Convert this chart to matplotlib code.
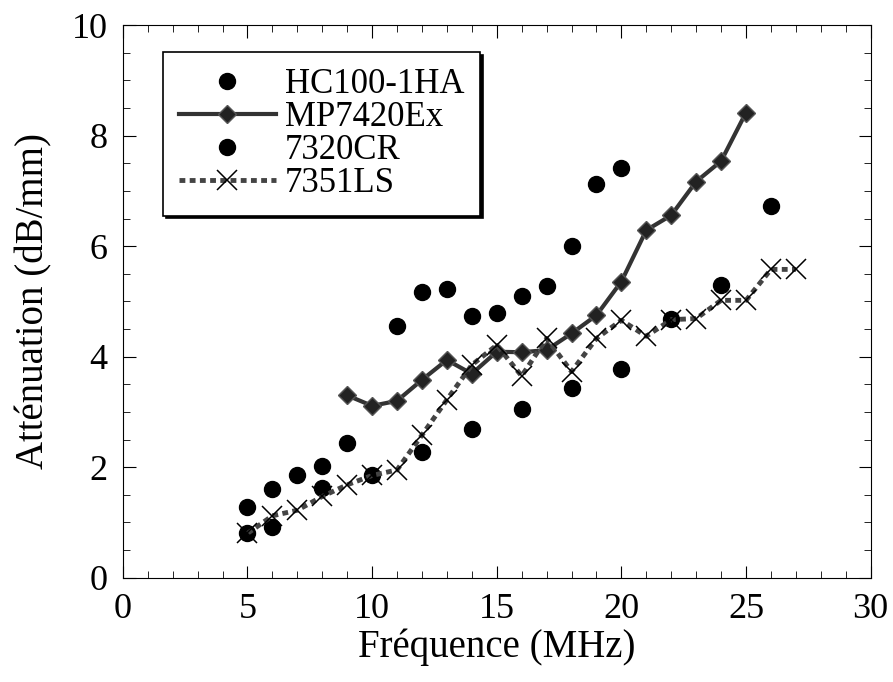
import matplotlib
matplotlib.use("Agg")
from matplotlib import pyplot as plt
from matplotlib.ticker import MultipleLocator
import numpy as np

plt.rcParams['font.family'] = ['Liberation Serif', 'DejaVu Serif']

# HC100-1HA (circles)
hc_x = [5, 6, 7, 8, 9, 11, 12, 13, 14, 15, 16, 17, 18, 19, 20]
hc_y = [1.28, 1.60, 1.85, 2.03, 2.43, 4.55, 5.17, 5.23, 4.74, 4.79, 5.10, 5.28, 6.00, 7.12, 7.42]

# MP7420Ex (line + diamonds)
mp_x = [9, 10, 11, 12, 13, 14, 15, 16, 17, 18, 19, 20, 21, 22, 23, 24, 25]
mp_y = [3.30, 3.11, 3.20, 3.58, 3.94, 3.69, 4.09, 4.08, 4.12, 4.42, 4.75, 5.36, 6.29, 6.56, 7.17, 7.54, 8.42]

# 7320CR (circles)
cr_x = [5, 6, 8, 10, 12, 14, 16, 18, 20, 22, 24, 26]
cr_y = [0.80, 0.92, 1.62, 1.85, 2.28, 2.70, 3.06, 3.43, 3.77, 4.68, 5.30, 6.73]

# 7351LS (dashed + crosses)
ls_x = [5, 6, 7, 8, 9, 10, 11, 12, 13, 14, 15, 16, 17, 18, 19, 20, 21, 22, 23, 24, 25, 26, 27]
ls_y = [0.80, 1.12, 1.22, 1.47, 1.68, 1.85, 1.95, 2.58, 3.22, 3.85, 4.21, 3.65, 4.33, 3.73, 4.33, 4.66,
        4.37, 4.67, 4.69, 5.02, 5.02, 5.58, 5.58]

fig = plt.figure(figsize=(8.93, 6.82), dpi=100)
ax = fig.add_axes([0.1375, 0.153, 0.8375, 0.81])

ax.plot(hc_x, hc_y, 'o', color='k', ms=11.5, ls='none', label='HC100-1HA')
ax.plot(mp_x, mp_y, '-', color='#333333', lw=3, marker='D', ms=9,
        mfc='#222222', mec='#555555', label='MP7420Ex')
ax.plot(cr_x, cr_y, 'o', color='k', ms=11.5, ls='none', label='7320CR')
ax.plot(ls_x, ls_y, color='#444444', lw=3.5, dashes=(1.2, 0.9), marker='x',
        ms=14, mec='k', mew=1.1, label='7351LS')

ax.set_xlim(0, 30)
ax.set_ylim(0, 10)
ax.xaxis.set_major_locator(MultipleLocator(5))
ax.xaxis.set_minor_locator(MultipleLocator(1))
ax.yaxis.set_major_locator(MultipleLocator(2))
ax.yaxis.set_minor_locator(MultipleLocator(0.5))
ax.tick_params(which='both', direction='in', top=True, right=True, labelsize=26, pad=11)
ax.tick_params(which='major', length=9)
ax.tick_params(which='minor', length=5)

ax.set_xlabel('Fréquence (MHz)', fontsize=28, labelpad=2)
ax.set_ylabel('Atténuation (dB/mm)', fontsize=28, labelpad=14)

leg = ax.legend(loc='upper left', bbox_to_anchor=(0.054, 0.951), fontsize=25,
                frameon=True, fancybox=False, shadow={'color': 'k', 'alpha': 1},
                edgecolor='k', framealpha=1, handlelength=2.8, handletextpad=0.25,
                labelspacing=0, borderpad=0.45, borderaxespad=0)
leg.get_frame().set_linewidth(1.2)

fig.savefig('out.png', dpi=100)
